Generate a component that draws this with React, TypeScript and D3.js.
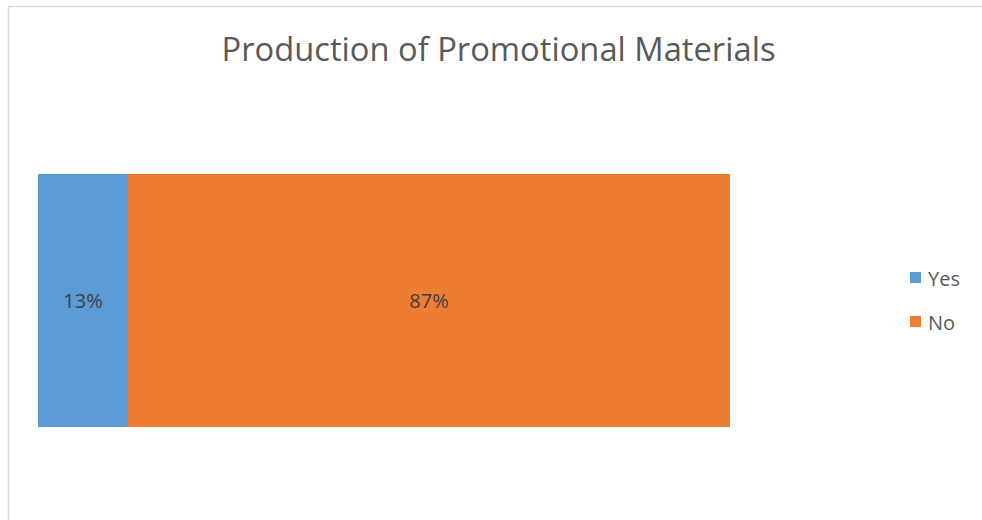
import React from "react";
import * as d3 from "d3";

const categories = ["Production of Promotional Materials"];
const seriesNames = ["Yes", "No"];
const yesValues = [0.13];
const noValues = [0.87];
const colors = ["#5B9BD5", "#ED7D31"];
const titleText = "Production of Promotional Materials";

const W = 982;
const H = 520;

export default function App() {
  const rows = categories.map((c, i) => ({ cat: c, Yes: yesValues[i], No: noValues[i] }));
  const stack = d3.stack<any>().keys(seriesNames);
  const layers = stack(rows);
  const x = d3.scaleLinear().domain([0, 1]).range([38, 730]);
  const y = d3.scaleBand().domain(categories).range([174, 427]).padding(0);
  const color = d3.scaleOrdinal<string>().domain(seriesNames).range(colors);
  const fmt = d3.format(".0%");
  const font = "'Open Sans', sans-serif";

  return (
    <svg width={W} height={H} style={{ position: "absolute", left: 0, top: 0, background: "#fff" }}>
      <rect x={8.5} y={6.5} width={W + 10} height={H + 10} fill="#fff" stroke="#d9d9d9" strokeWidth={1.5} />
      <text x={498.5} y={61} textAnchor="middle" fontFamily={font} fontSize={32.7} fill="#595959">
        {titleText}
      </text>
      {layers.map((layer) => (
        <g key={layer.key}>
          {layer.map((d, i) => {
            const x0 = x(d[0]);
            const x1 = x(d[1]);
            const yy = y(categories[i]) as number;
            const bw = y.bandwidth();
            return (
              <g key={i}>
                <rect x={x0} y={yy} width={x1 - x0} height={bw} fill={color(layer.key)} />
                <text
                  x={(x0 + x1) / 2}
                  y={yy + bw / 2 + 7}
                  textAnchor="middle"
                  fontFamily={font}
                  fontSize={20}
                  fill="#404040"
                >
                  {fmt(d[1] - d[0])}
                </text>
              </g>
            );
          })}
        </g>
      ))}
      {seriesNames.map((s, i) => (
        <g key={s} transform={`translate(910, ${272 + i * 44})`}>
          <rect x={0} y={0} width={11} height={11} fill={color(s)} />
          <text x={18} y={14} fontFamily={font} fontSize={20} fill="#595959">
            {s}
          </text>
        </g>
      ))}
    </svg>
  );
}
